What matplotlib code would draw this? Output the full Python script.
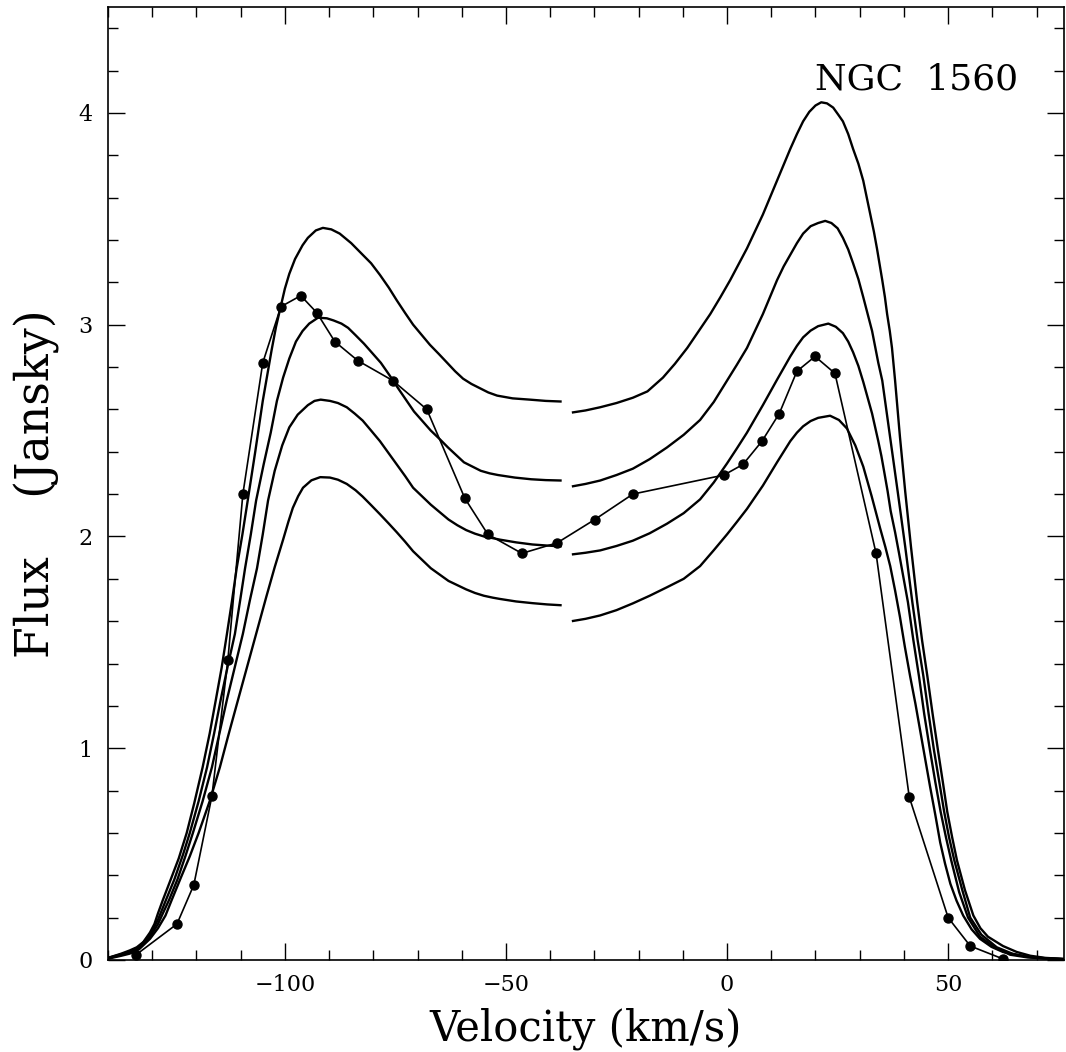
import matplotlib
matplotlib.use("Agg")
import matplotlib.pyplot as plt
from matplotlib.ticker import MultipleLocator

# observed HI profile (dots)
obs_v = [-133.7, -124.4, -120.6, -116.5, -112.9, -109.5, -105.0, -100.9, -96.4, -92.8,
         -88.7, -83.5, -75.6, -67.9, -59.3, -54.1, -46.4, -38.4, -29.9, -21.3,
         -0.7, 3.6, 7.9, 11.8, 15.8, 19.9, 24.4, 33.7, 41.2, 50.0, 55.0, 62.4]
obs_f = [0.024, 0.17, 0.354, 0.774, 1.415, 2.20, 2.82, 3.085, 3.137, 3.057,
         2.92, 2.83, 2.736, 2.60, 2.18, 2.01, 1.92, 1.97, 2.08, 2.20,
         2.29, 2.34, 2.45, 2.58, 2.78, 2.85, 2.77, 1.92, 0.77, 0.20, 0.066, 0.005]

# model profiles, low-velocity half (ends at -37.4 km/s)
m1_left_v = [-140.0, -138.5, -137.0, -135.1, -133.5, -132.0, -130.5, -129.5, -128.7, -127.6,
             -126.0, -124.0, -122.2, -120.5, -118.6, -117.0, -115.6, -114.3, -113.1, -112.0,
             -110.9, -109.6, -108.4, -106.7, -105.0, -103.0, -102.0, -101.0, -100.0, -99.0,
             -97.7, -96.0, -94.8, -93.0, -91.4, -89.5, -87.6, -85.0, -82.4, -80.5,
             -78.5, -76.5, -74.7, -72.8, -71.0, -69.0, -67.2, -65.2, -63.3, -61.5,
             -59.7, -57.8, -55.9, -54.0, -52.0, -48.5, -44.6, -41.0, -37.4]
m1_left_f = [0.01, 0.02, 0.03, 0.045, 0.06, 0.085, 0.13, 0.17, 0.22, 0.283,
             0.37, 0.48, 0.60, 0.74, 0.91, 1.07, 1.23, 1.38, 1.54, 1.69,
             1.85, 2.01, 2.17, 2.40, 2.64, 2.88, 2.99, 3.08, 3.17, 3.24,
             3.31, 3.375, 3.41, 3.445, 3.457, 3.45, 3.43, 3.385, 3.33, 3.29,
             3.235, 3.175, 3.115, 3.055, 3.00, 2.95, 2.905, 2.862, 2.82, 2.78,
             2.745, 2.72, 2.70, 2.68, 2.665, 2.652, 2.646, 2.64, 2.637]

m2_left_v = [-140.0, -137.0, -135.1, -133.0, -130.5, -128.7, -126.9, -125.0, -123.0, -121.5,
             -119.5, -117.6, -116.0, -114.5, -112.9, -111.3, -110.1, -109.0, -107.7, -106.5,
             -104.8, -103.2, -101.8, -100.4, -99.0, -97.5, -96.0, -94.5, -92.5, -90.5,
             -89.0, -87.2, -85.7, -84.0, -82.1, -80.2, -78.3, -76.3, -74.4, -72.6,
             -70.8, -68.9, -67.0, -65.0, -63.1, -61.3, -59.5, -57.6, -55.7, -53.7,
             -51.8, -48.0, -44.3, -41.0, -37.4]
m2_left_f = [0.01, 0.027, 0.04, 0.06, 0.12, 0.19, 0.283, 0.38, 0.50, 0.60,
             0.75, 0.91, 1.07, 1.23, 1.39, 1.54, 1.70, 1.85, 2.01, 2.17,
             2.34, 2.49, 2.64, 2.75, 2.84, 2.92, 2.97, 3.005, 3.033, 3.03,
             3.02, 3.005, 2.985, 2.95, 2.91, 2.865, 2.82, 2.76, 2.70, 2.645,
             2.59, 2.545, 2.50, 2.46, 2.42, 2.385, 2.35, 2.33, 2.31, 2.298,
             2.29, 2.278, 2.27, 2.266, 2.264]

m3_left_v = [-140.0, -137.0, -135.1, -133.0, -130.5, -128.7, -126.2, -124.3, -122.5, -120.8,
             -118.6, -116.5, -114.8, -113.1, -111.3, -109.5, -107.9, -106.3, -105.0, -103.8,
             -102.3, -100.6, -99.0, -97.1, -94.8, -93.3, -91.9, -89.8, -88.0, -86.0,
             -84.2, -82.4, -80.5, -78.5, -76.6, -74.7, -72.8, -71.0, -69.0, -67.0,
             -65.0, -63.0, -61.0, -59.0, -57.0, -55.0, -53.0, -51.4, -47.7, -44.0,
             -40.7, -37.4]
m3_left_f = [0.008, 0.024, 0.035, 0.055, 0.11, 0.17, 0.283, 0.38, 0.49, 0.60,
             0.75, 0.91, 1.07, 1.23, 1.385, 1.54, 1.70, 1.85, 2.01, 2.17,
             2.31, 2.43, 2.515, 2.575, 2.62, 2.64, 2.646, 2.64, 2.63, 2.61,
             2.58, 2.547, 2.50, 2.45, 2.395, 2.34, 2.285, 2.23, 2.19, 2.15,
             2.115, 2.08, 2.053, 2.03, 2.013, 2.00, 1.992, 1.985, 1.972, 1.962,
             1.957, 1.953]

m4_left_v = [-140.0, -137.0, -135.1, -133.0, -130.5, -128.7, -127.0, -125.6, -123.5, -121.5,
             -119.5, -117.0, -114.7, -112.8, -110.9, -108.6, -106.3, -104.2, -102.3, -100.4,
             -99.2, -98.2, -97.0, -95.9, -94.0, -92.0, -89.8, -88.0, -86.0, -84.0,
             -82.4, -80.5, -78.5, -76.6, -74.7, -72.8, -71.0, -69.0, -67.0, -65.0,
             -63.0, -61.0, -59.0, -57.0, -55.0, -53.0, -51.4, -47.7, -44.0, -40.7, -37.4]
m4_left_f = [0.006, 0.02, 0.03, 0.05, 0.10, 0.15, 0.21, 0.283, 0.39, 0.49,
             0.60, 0.75, 0.91, 1.06, 1.205, 1.38, 1.555, 1.715, 1.855, 1.985,
             2.07, 2.135, 2.19, 2.23, 2.265, 2.28, 2.278, 2.268, 2.248, 2.218,
             2.188, 2.148, 2.105, 2.063, 2.02, 1.975, 1.93, 1.89, 1.85, 1.82,
             1.79, 1.77, 1.75, 1.733, 1.72, 1.711, 1.705, 1.693, 1.685, 1.679, 1.675]

# model profiles, high-velocity half (starts at -35.1 km/s)
m1_right_v = [-35.1, -32.0, -28.7, -25.0, -21.3, -18.0, -14.5, -11.8, -9.0, -6.4,
              -3.8, -1.5, 0.7, 2.6, 4.5, 6.3, 8.1, 9.7, 11.3, 12.8,
              14.3, 15.8, 17.2, 18.6, 20.0, 21.3, 22.6, 24.0, 25.2, 26.2,
              27.4, 28.5, 29.7, 30.8, 31.6, 32.4, 33.2, 33.9, 34.5, 35.1,
              35.7, 36.2, 36.8, 37.3, 38.0, 39.1, 40.3, 41.6, 43.0, 44.1,
              45.3, 46.5, 47.7, 48.8, 49.8, 50.9, 52.0, 53.8, 55.7, 57.3,
              59.0, 62.4, 65.5, 68.6, 72.0, 76.2]
m1_right_f = [2.585, 2.595, 2.61, 2.63, 2.655, 2.685, 2.75, 2.815, 2.89, 2.97,
              3.05, 3.13, 3.21, 3.285, 3.36, 3.44, 3.52, 3.60, 3.68, 3.755,
              3.83, 3.90, 3.96, 4.005, 4.035, 4.05, 4.045, 4.025, 3.99, 3.96,
              3.90, 3.83, 3.76, 3.68, 3.60, 3.52, 3.44, 3.36, 3.285, 3.21,
              3.13, 3.05, 2.97, 2.89, 2.736, 2.47, 2.21, 1.95, 1.69, 1.51,
              1.34, 1.16, 0.99, 0.84, 0.70, 0.58, 0.47, 0.33, 0.21, 0.15,
              0.11, 0.066, 0.038, 0.02, 0.01, 0.005]

m2_right_v = [-35.1, -32.0, -28.7, -25.0, -21.3, -17.5, -13.6, -9.8, -6.1, -3.0,
              0.0, 2.2, 4.5, 6.3, 8.1, 9.7, 11.3, 12.8, 14.3, 15.8,
              17.2, 18.9, 20.6, 22.2, 23.6, 25.0, 26.2, 27.4, 28.5, 29.7,
              30.8, 31.8, 32.8, 33.5, 34.2, 35.1, 36.8, 38.6, 40.3, 41.9,
              43.1, 44.4, 45.6, 46.8, 48.0, 49.1, 50.2, 51.4, 53.2, 55.0,
              57.5, 61.0, 64.5, 68.0, 72.0, 76.2]
m2_right_f = [2.236, 2.248, 2.264, 2.29, 2.32, 2.365, 2.42, 2.48, 2.55, 2.635,
              2.736, 2.81, 2.89, 2.97, 3.05, 3.13, 3.21, 3.275, 3.33, 3.385,
              3.43, 3.465, 3.48, 3.49, 3.48, 3.455, 3.41, 3.355, 3.29, 3.215,
              3.13, 3.05, 2.97, 2.895, 2.82, 2.736, 2.48, 2.21, 1.95, 1.69,
              1.51, 1.34, 1.16, 0.99, 0.84, 0.70, 0.58, 0.47, 0.33, 0.20,
              0.12, 0.06, 0.03, 0.015, 0.008, 0.004]

m3_right_v = [-35.1, -32.0, -28.7, -25.0, -21.3, -17.5, -13.6, -9.8, -6.1, -3.0,
              0.0, 2.2, 4.5, 6.3, 8.1, 9.7, 11.3, 12.8, 14.3, 15.8,
              17.2, 18.9, 20.6, 22.9, 24.6, 26.2, 27.4, 28.5, 29.7, 30.8,
              31.8, 32.8, 33.5, 34.2, 34.9, 35.5, 36.3, 37.0, 38.0, 38.9,
              39.9, 40.9, 42.1, 43.4, 44.6, 45.9, 47.1, 48.3, 49.5, 50.7,
              52.5, 54.5, 57.2, 60.5, 64.0, 68.0, 72.0, 76.2]
m3_right_f = [1.915, 1.923, 1.934, 1.955, 1.98, 2.015, 2.06, 2.11, 2.175, 2.255,
              2.345, 2.415, 2.49, 2.555, 2.62, 2.68, 2.74, 2.795, 2.85, 2.90,
              2.94, 2.972, 2.993, 3.005, 2.99, 2.96, 2.92, 2.87, 2.805, 2.73,
              2.655, 2.58, 2.515, 2.45, 2.38, 2.31, 2.215, 2.12, 2.02, 1.92,
              1.805, 1.69, 1.515, 1.34, 1.16, 0.99, 0.84, 0.70, 0.58, 0.47,
              0.32, 0.20, 0.11, 0.06, 0.025, 0.012, 0.007, 0.004]

m4_right_v = [-35.1, -32.0, -28.7, -25.0, -21.3, -17.5, -13.6, -9.8, -6.1, -3.0,
              0.0, 2.2, 4.5, 6.3, 8.1, 9.7, 11.3, 12.8, 14.3, 15.8,
              17.2, 18.9, 20.6, 23.3, 25.3, 27.1, 29.0, 30.8, 32.7, 34.6,
              35.8, 36.9, 38.0, 39.1, 40.2, 41.4, 42.6, 43.7, 44.8, 45.9,
              47.1, 48.2, 49.3, 50.5, 51.9, 53.4, 55.3, 57.2, 59.8, 62.4,
              65.5, 68.6, 72.0, 76.2]
m4_right_f = [1.60, 1.611, 1.627, 1.652, 1.684, 1.72, 1.76, 1.80, 1.86, 1.935,
              2.01, 2.068, 2.13, 2.185, 2.24, 2.295, 2.35, 2.40, 2.45, 2.49,
              2.52, 2.545, 2.56, 2.57, 2.55, 2.51, 2.43, 2.33, 2.19, 2.04,
              1.95, 1.86, 1.745, 1.62, 1.48, 1.34, 1.21, 1.08, 0.95, 0.82,
              0.685, 0.555, 0.455, 0.36, 0.28, 0.21, 0.145, 0.10, 0.062, 0.038,
              0.024, 0.014, 0.008, 0.004]

models = [(m1_left_v, m1_left_f), (m2_left_v, m2_left_f), (m3_left_v, m3_left_f), (m4_left_v, m4_left_f),
          (m1_right_v, m1_right_f), (m2_right_v, m2_right_f), (m3_right_v, m3_right_f), (m4_right_v, m4_right_f)]

plt.rcParams['font.family'] = ['DejaVu Serif']

fig = plt.figure(figsize=(10.66, 10.52), dpi=100)
ax = fig.add_axes([108/1066, 92/1052, 956/1066, 953/1052])

for v, f in models:
    ax.plot(v, f, color='black', lw=1.7, solid_capstyle='butt', solid_joinstyle='round')

ax.plot(obs_v, obs_f, color='black', lw=1.2, marker='o', ms=6.5)

ax.text(42.8, 4.156, "NGC  1560", ha='center', va='center', fontsize=26)

ax.set_xlim(-140, 76.2)
ax.set_ylim(0, 4.5)
ax.xaxis.set_major_locator(MultipleLocator(50))
ax.xaxis.set_minor_locator(MultipleLocator(10))
ax.yaxis.set_major_locator(MultipleLocator(1))
ax.yaxis.set_minor_locator(MultipleLocator(0.2))
ax.tick_params(which='both', direction='in', top=True, right=True, width=1, labelsize=16)
ax.tick_params(which='major', length=12)
ax.tick_params(which='minor', length=7)
ax.tick_params(axis='x', pad=10)
ax.tick_params(axis='y', pad=11)
for s in ax.spines.values():
    s.set_linewidth(1.2)

ax.set_xlabel("Velocity (km/s)", fontsize=30, labelpad=8)
ax.set_ylabel("Flux    (Jansky)", fontsize=33, labelpad=13)

fig.savefig("out.png", dpi=100)
